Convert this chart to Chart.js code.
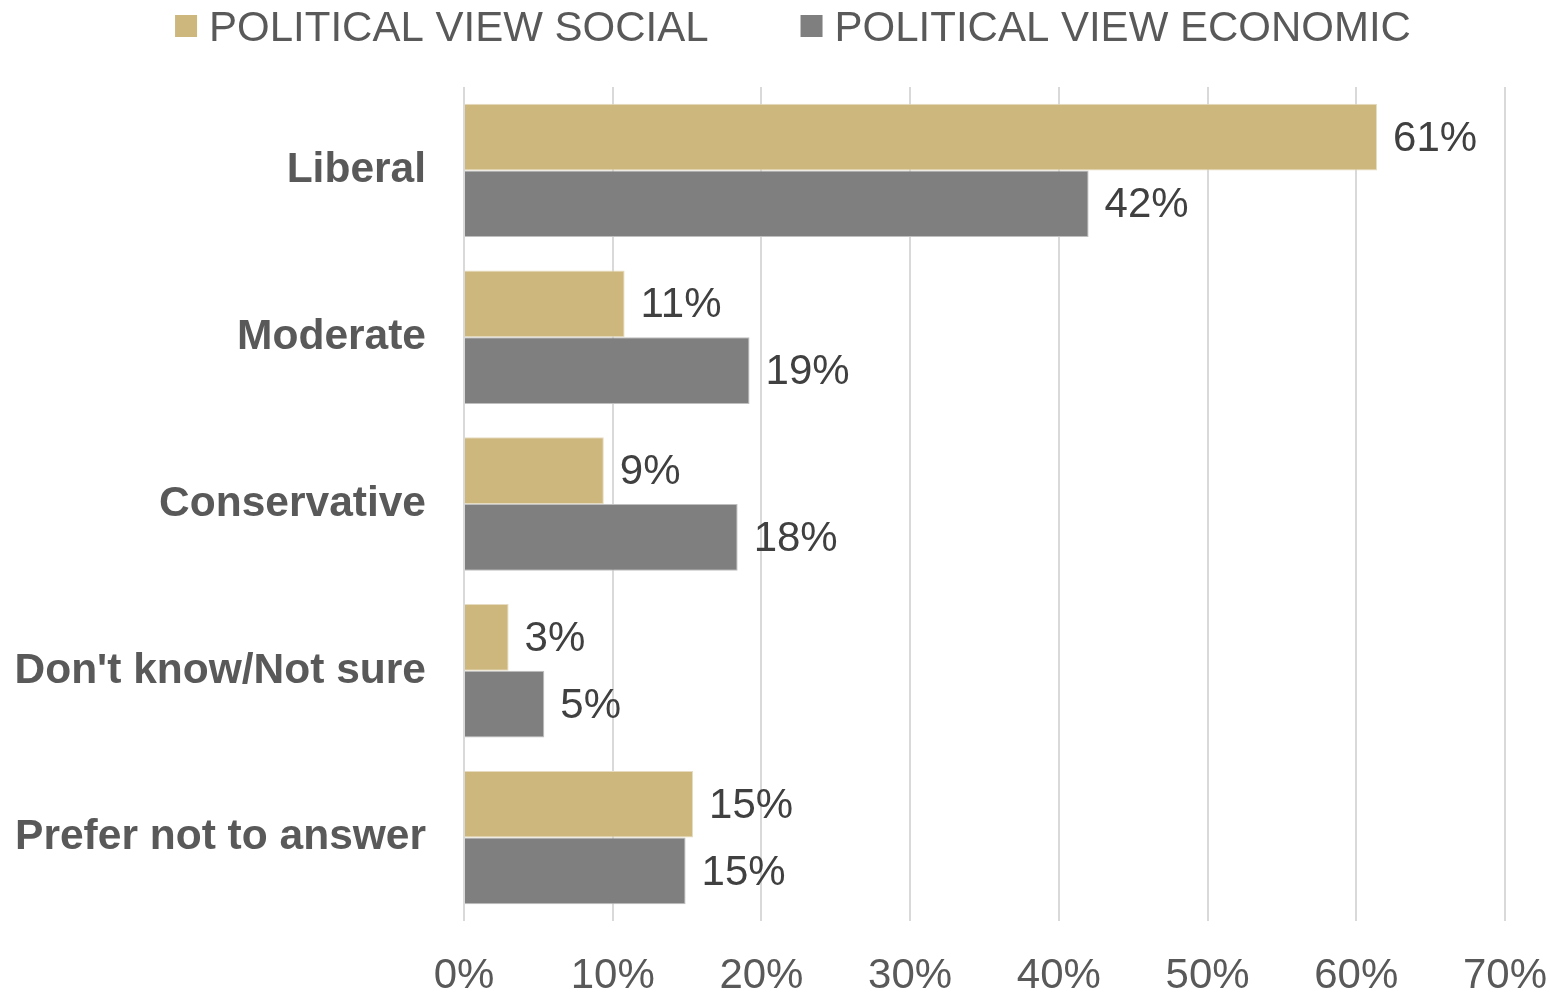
<!DOCTYPE html>
<html>
<head>
<meta charset="utf-8">
<script src="https://cdn.jsdelivr.net/npm/chart.js@4.4.1/dist/chart.umd.min.js"></script>
<style>
    html, body { margin: 0; padding: 0; background: #ffffff; }
    #wrap { width: 1550px; height: 992px; }
</style>
</head>
<body>
<div id="wrap"><canvas id="chart"></canvas></div>
<script>
const categories = ['Liberal', 'Moderate', 'Conservative', "Don't know/Not sure", 'Prefer not to answer'];
const socialValues = [61.4, 10.8, 9.4, 3.0, 15.4];
const economicValues = [42.0, 19.2, 18.4, 5.4, 14.9];
const seriesNames = ['POLITICAL VIEW SOCIAL', 'POLITICAL VIEW ECONOMIC'];
const xTicks = [0, 10, 20, 30, 40, 50, 60, 70];

const textGray = '#595959';
const fontFamily = '"Liberation Sans", Arial, sans-serif';

// Writes the rounded percentage just past the end of every bar
const valueLabels = {
    id: 'valueLabels',
    afterDatasetsDraw(chart) {
        const ctx = chart.ctx;
        ctx.save();
        ctx.font = `42px ${fontFamily}`;
        ctx.fillStyle = '#404040';
        ctx.textAlign = 'left';
        ctx.textBaseline = 'middle';
        chart.data.datasets.forEach((dataset, i) => {
            chart.getDatasetMeta(i).data.forEach((bar, idx) => {
                ctx.fillText(`${Math.round(dataset.data[idx])}%`, bar.x + 16, bar.y + 2);
            });
        });
        ctx.restore();
    }
};

// Legend row across the top: square swatch + series name, centred over the plot
const topLegend = {
    id: 'topLegend',
    afterDraw(chart) {
        const ctx = chart.ctx;
        const box = 22, boxGap = 12, itemGap = 92, centerX = 793, centerY = 26;
        ctx.save();
        ctx.font = `42px ${fontFamily}`;
        ctx.textBaseline = 'middle';
        ctx.textAlign = 'left';

        const items = chart.data.datasets.map(ds => ({
            text: ds.label,
            color: ds.backgroundColor,
            width: box + boxGap + ctx.measureText(ds.label).width
        }));
        const total = items.reduce((sum, it) => sum + it.width, 0) + itemGap * (items.length - 1);
        let x = centerX - total / 2;

        items.forEach(it => {
            ctx.fillStyle = it.color;
            ctx.fillRect(x, centerY - box / 2, box, box);
            ctx.fillStyle = textGray;
            ctx.fillText(it.text, x + box + boxGap, centerY + 3);
            x += it.width + itemGap;
        });
        ctx.restore();
    }
};

new Chart(document.getElementById('chart'), {
    type: 'bar',
    data: {
        labels: categories,
        datasets: [
            {
                label: seriesNames[0],
                data: socialValues,
                backgroundColor: '#CDB77C',
                borderColor: '#e6dcc2',
                borderWidth: 1
            },
            {
                label: seriesNames[1],
                data: economicValues,
                backgroundColor: '#7F7F7F',
                borderColor: '#bfbfbf',
                borderWidth: 1
            }
        ]
    },
    options: {
        indexAxis: 'y',
        responsive: true,
        maintainAspectRatio: false,
        animation: false,
        categoryPercentage: 0.8,
        barPercentage: 1.0,
        layout: {
            padding: { left: 0, right: 45, top: 87, bottom: 0 }
        },
        scales: {
            x: {
                min: 0,
                max: 70,
                afterBuildTicks: (scale) => {
                    scale.ticks = xTicks.map(v => ({ value: v }));
                },
                afterFit: (scale) => {
                    scale.height = 71;
                    scale.paddingLeft = 0;
                    scale.paddingRight = 0;
                },
                grid: {
                    color: '#d9d9d9',
                    lineWidth: 2,
                    drawTicks: false
                },
                border: { display: false },
                ticks: {
                    padding: 30,
                    color: textGray,
                    font: { family: fontFamily, size: 42 },
                    callback: (v) => `${v}%`
                }
            },
            y: {
                afterFit: (scale) => {
                    scale.width = 464;
                    scale.paddingTop = 0;
                    scale.paddingBottom = 0;
                },
                grid: { display: false, drawTicks: false },
                border: { display: false },
                ticks: {
                    padding: 38,
                    color: textGray,
                    font: { family: fontFamily, size: 42.5, weight: 'bold' }
                }
            }
        },
        plugins: {
            legend: { display: false },
            tooltip: { enabled: false }
        }
    },
    plugins: [valueLabels, topLegend]
});
</script>
</body>
</html>
